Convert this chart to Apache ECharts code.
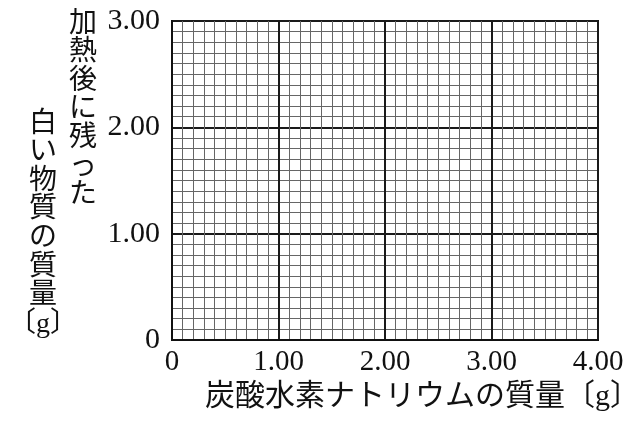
<!DOCTYPE html>
<html>
<head>
<meta charset="utf-8">
<script src="https://cdn.jsdelivr.net/npm/echarts@6/dist/echarts.min.js"></script>
<style>
html,body{margin:0;padding:0;background:#fff;}
#c{width:640px;height:423px;}
</style>
</head>
<body>
<div id="c"></div>
<script>
const xTickValues = [0, 1, 2, 3, 4];
const xTickLabels = ['0', '1.00', '2.00', '3.00', '4.00'];
const yTickValues = [0, 1, 2, 3];
const yTickLabels = ['0', '1.00', '2.00', '3.00'];
const xTitle = '炭酸水素ナトリウムの質量〔g〕';
const yTitleRight = ['加', '熱', '後', 'に', '残', 'っ', 'た'];
const yTitleLeft = ['白', 'い', '物', '質', 'の', '質', '量', '〔g〕'];

const serif = "'Liberation Serif', 'DejaVu Serif', 'Noto Sans CJK JP', serif";
const jp = "'Liberation Serif', 'Noto Sans CJK JP', sans-serif";

function lab(values, labels) {
  return function (v) {
    const i = values.indexOf(Math.round(v * 1000) / 1000);
    return i >= 0 ? labels[i] : '';
  };
}

const chart = echarts.init(document.getElementById('c'));
const axisCommon = {
  type: 'value',
  interval: 1,
  axisLine: { show: true, lineStyle: { color: '#111', width: 2 } },
  axisTick: { show: false },
  splitLine: { show: true, lineStyle: { color: '#1a1a1a', width: 2 } },
  minorTick: { show: false, splitNumber: 10 },
  minorSplitLine: { show: true, lineStyle: { color: '#666', width: 1 } }
};
chart.setOption({
  backgroundColor: '#fff',
  animation: false,
  grid: {
    left: 172, top: 21, width: 426, height: 319,
    show: true, borderColor: '#111', borderWidth: 2, backgroundColor: 'transparent'
  },
  xAxis: Object.assign({}, axisCommon, {
    min: 0, max: 4,
    axisLabel: {
      formatter: lab(xTickValues, xTickLabels),
      color: '#111', fontFamily: serif, fontSize: 29, margin: 8
    }
  }),
  yAxis: Object.assign({}, axisCommon, {
    min: 0, max: 3,
    axisLabel: {
      formatter: lab(yTickValues, yTickLabels),
      color: '#111', fontFamily: serif, fontSize: 30, margin: 12
    }
  }),
  graphic: [
    {
      type: 'text', left: 205, top: 382,
      style: { text: xTitle, fill: '#111', font: '30px ' + jp }
    },
    {
      type: 'text', x: 83, y: 10,
      style: { text: yTitleRight.join('\n'), fill: '#111', font: '28px ' + jp,
        lineHeight: 28.6, align: 'center', verticalAlign: 'top' }
    },
    {
      type: 'text', x: 43, y: 110,
      style: { text: yTitleLeft.join('\n'), fill: '#111', font: '28px ' + jp,
        lineHeight: 28.6, align: 'center', verticalAlign: 'top' }
    }
  ],
  series: []
});
</script>
</body>
</html>
